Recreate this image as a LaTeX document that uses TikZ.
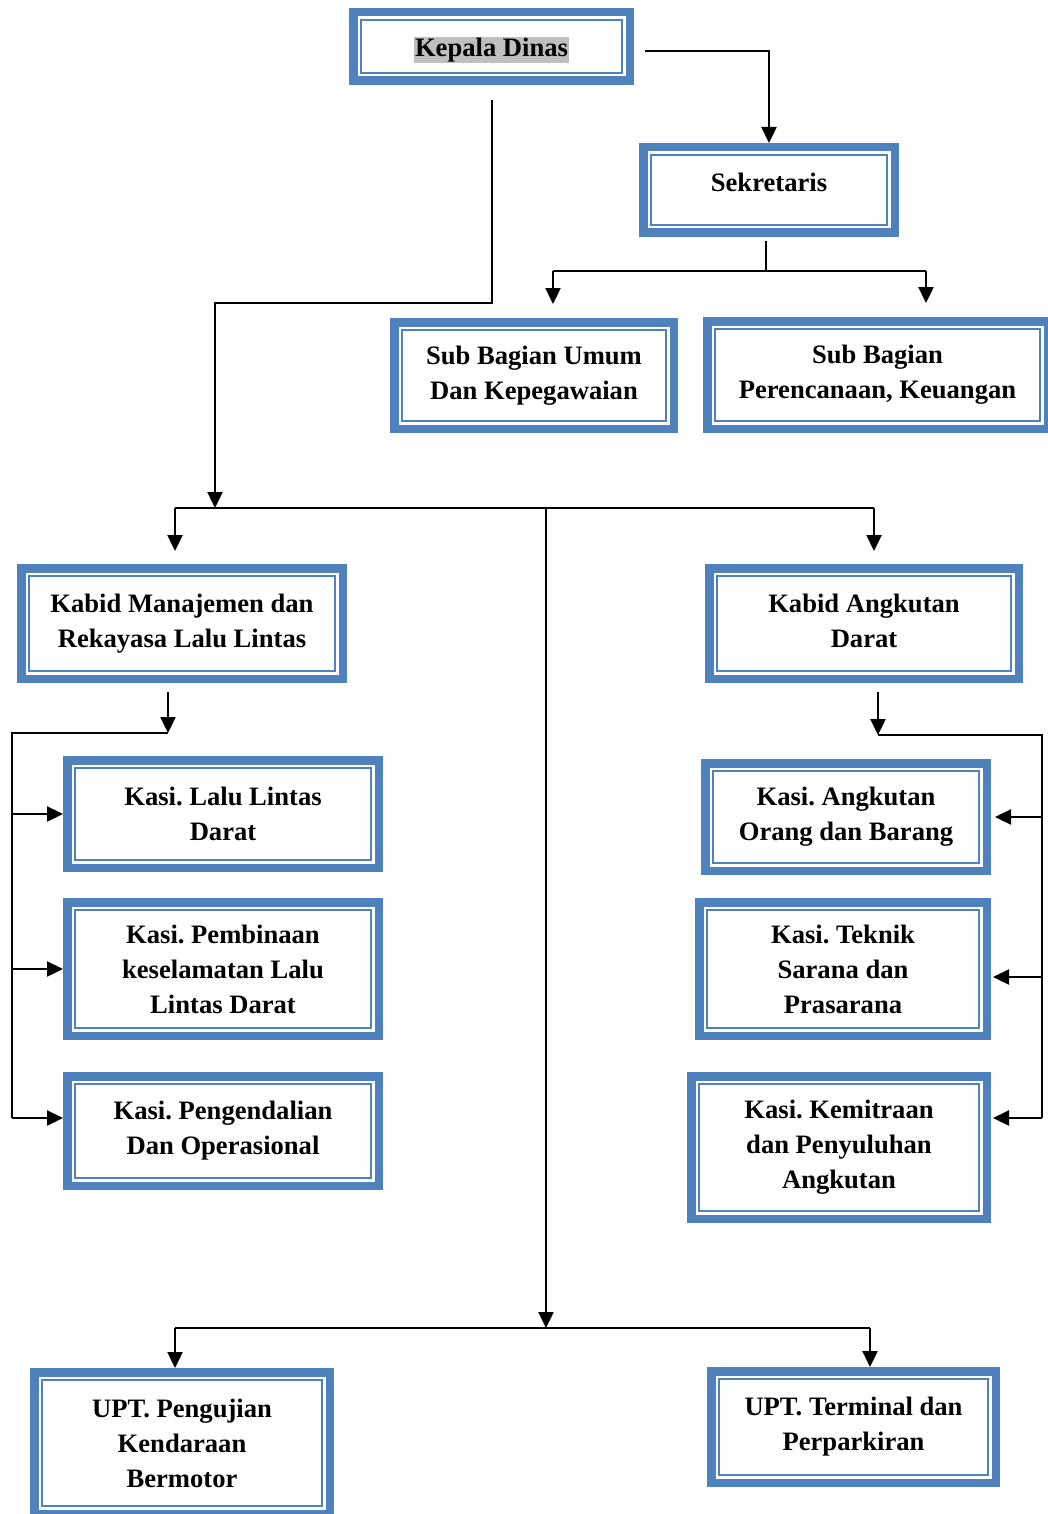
\documentclass[tikz,border=0pt]{standalone}
\usepackage{fontspec}
\setmainfont{Liberation Serif}
\usepackage{tikz}
\usetikzlibrary{arrows.meta, calc}
\usepackage{xcolor}
\definecolor{boxblue}{HTML}{4F81BD}
\definecolor{hlgray}{HTML}{BFBFBF}
\newcommand{\hlbox}[1]{{\setlength{\fboxsep}{0.6pt}\colorbox{hlgray}{#1}}}
\frenchspacing

\begin{document}
\begin{tikzpicture}[
    x=0.5pt, y=-0.5pt,
    unit/.style 2 args={draw=boxblue, line width=4.25pt, fill=white, inner sep=0pt, align=center,
      font=\bfseries\fontsize{13.3}{17.5}\selectfont,
      minimum width={(#1-8.5)*0.5pt}, minimum height={(#2-8.5)*0.5pt},
      path picture={\draw[boxblue, line width=1pt]
        ([shift={(4pt,4pt)}]path picture bounding box.south west) rectangle
        ([shift={(-4pt,-4pt)}]path picture bounding box.north east);}},
    line/.style={line width=0.8pt},
    arrow/.style={-{Triangle[length=8pt, width=7.5pt]}, line width=1.2pt}
  ]
    \clip (0,0) rectangle (1048,1514);

    % Pimpinan
    \node[unit={285}{77}, text depth=0pt] (kepala) at (491.5,46.5) {\hlbox{Kepala Dinas}};
    \node[unit={260}{94}, text depth=8pt] (sekretaris) at (769,190) {Sekretaris};
    \node[unit={288}{115}] (subumum) at (534,375.5) {Sub Bagian Umum\\Dan Kepegawaian};
    \node[unit={349}{116}] (subrenc) at (877.5,375) {Sub Bagian\\Perencanaan, Keuangan};

    % Bidang
    \node[unit={330}{119}] (kabidmr) at (182,623.5) {Kabid Manajemen dan\\Rekayasa Lalu Lintas};
    \node[unit={318}{119}, text depth=3pt] (kabidad) at (864,623.5) {Kabid Angkutan\\Darat};

    % Seksi kiri
    \node[unit={320}{116}] (kasill) at (223,814) {Kasi. Lalu Lintas\\Darat};
    \node[unit={320}{142}] (kasipk) at (223,969) {Kasi. Pembinaan\\keselamatan Lalu\\Lintas Darat};
    \node[unit={320}{118}] (kasipo) at (223,1131) {Kasi. Pengendalian\\Dan Operasional};

    % Seksi kanan
    \node[unit={290}{116}] (kasiaob) at (846,817) {Kasi. Angkutan\\Orang dan Barang};
    \node[unit={296}{142}] (kasitsp) at (843,969) {Kasi. Teknik\\Sarana dan\\Prasarana};
    \node[unit={304}{151}] (kasikpa) at (839,1147.5) {Kasi. Kemitraan\\dan Penyuluhan\\Angkutan};

    % UPT
    \node[unit={304}{150}] (uptpkb) at (182,1443) {UPT. Pengujian\\Kendaraan\\Bermotor};
    \node[unit={293}{120}] (upttp) at (853.5,1427) {UPT. Terminal dan\\Perparkiran};

    % Titik bantu
    \coordinate (kdR) at (645,51);
    \coordinate (kdB) at (492,100);
    \coordinate (kdturn) at (215,303);
    \coordinate (busT) at (215,508);
    \coordinate (busL) at (175,508);
    \coordinate (busM) at (546,508);
    \coordinate (busR) at (874,508);
    \coordinate (skB) at (766,241);
    \coordinate (skbus) at (766,271);
    \coordinate (skL) at (553,271);
    \coordinate (skR) at (926,271);
    \coordinate (mrB) at (168,692);
    \coordinate (mrbus) at (168,733);
    \coordinate (mrL) at (12,733);
    \coordinate (mrE) at (12,1118);
    \coordinate (adB) at (878,692);
    \coordinate (adbus) at (878,735);
    \coordinate (adR) at (1042,735);
    \coordinate (adE) at (1042,1118);
    \coordinate (botM) at (546,1328);
    \coordinate (botL) at (175,1328);
    \coordinate (botR) at (870,1328);
    \coordinate (tspin) at ([yshift=-4pt]kasitsp.east);

    % Kepala Dinas ke Sekretaris dan bidang
    \draw[line, arrow] (kdR) -| (sekretaris.north);
    \draw[line, arrow] (kdB) |- (kdturn) -- (busT);

    % Sekretaris ke sub bagian
    \draw[line] (skB) -- (skbus);
    \draw[line] (skL) -- (skR);
    \draw[arrow, shorten >=7pt] (skL) -- (skL |- subumum.north);
    \draw[arrow, shorten >=7pt] (skR) -- (skR |- subrenc.north);

    % Garis bidang
    \draw[line] (busL) -- (busR);
    \draw[arrow, shorten >=6.5pt] (busL) -- (busL |- kabidmr.north);
    \draw[arrow, shorten >=6.5pt] (busR) -- (busR |- kabidad.north);
    \draw[arrow] (busM) -- (botM);

    % Seksi kiri
    \draw[arrow] (mrB) -- (mrbus);
    \draw[line] (mrbus) -- (mrL) -- (mrE);
    \draw[arrow] (mrL |- kasill.west) -- (kasill.west);
    \draw[arrow] (mrL |- kasipk.west) -- (kasipk.west);
    \draw[arrow] (mrE) -- (mrE -| kasipo.west);

    % Seksi kanan
    \draw[arrow] (adB) -- (adbus);
    \draw[line] (adbus) -- (adR) -- (adE);
    \draw[arrow, shorten >=2pt] (adR |- kasiaob.east) -- (kasiaob.east);
    \draw[arrow, shorten >=1pt] (adR |- tspin) -- (tspin);
    \draw[arrow, shorten >=1pt] (adE) -- (adE -| kasikpa.east);

    % UPT
    \draw[line] (botL) -- (botR);
    \draw[arrow] (botL) -- (botL |- uptpkb.north);
    \draw[arrow] (botR) -- (botR |- upttp.north);
  \end{tikzpicture}
\end{document}
